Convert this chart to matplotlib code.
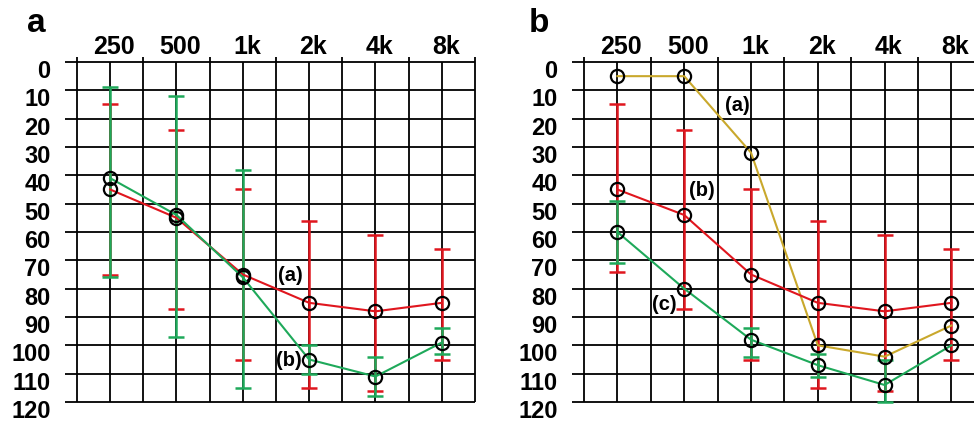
import numpy as np
import matplotlib.pyplot as plt
from matplotlib.transforms import ScaledTranslation

plt.rcParams['font.family'] = ['Liberation Sans', 'DejaVu Sans']
plt.rcParams['font.weight'] = 'bold'

# audiogram frequencies and dB levels
freq_labels = ['250', '500', '1k', '2k', '4k', '8k']
db_ticks = list(range(0, 121, 10))
nan = np.nan

# panel a: thresholds (circles) and bar ranges (top, bottom)
a_red = [45, 55, 75, 85, 88, 85]
a_green = [41, 54, 76, 105, 111, 99]
a_red_top = [15, 24, 45, 56, 61, 66]
a_red_bot = [75, 87, 105, 115, 116, 105]
a_green_top = [9, 12, 38, 100, 104, 94]
a_green_bot = [76, 97, 115, 110, 118, 103]

# panel b
b_yellow = [5, 5, 32, 100, 104, 93]
b_red = [45, 54, 75, 85, 88, 85]
b_green = [60, 80, 98, 107, 114, 100]
b_red_top = [15, 24, 45, 56, 61, 66]
b_red_bot = [74, 87, 105, 115, 116, 105]
b_green_top = [49, nan, 94, 103, 105, nan]
b_green_bot = [71, nan, 104, 111, 120, nan]

RED = '#e0161e'
GREEN = '#1ea95a'
YELLOW = '#c9a82c'

W, H = 974, 423
fig = plt.figure(figsize=(W / 100, H / 100), dpi=100)


def shift(label, dx_px, dy_px):
    label.set_transform(label.get_transform() +
                        ScaledTranslation(dx_px / 100, dy_px / 100, fig.dpi_scale_trans))


def make_axes(left_px, unit_px):
    ax = fig.add_axes([left_px / W, (H - 402) / H, 6 * unit_px / W, 340 / H])
    ax.set_xlim(-0.5, 5.5)
    ax.set_ylim(120, 0)
    for s in ax.spines.values():
        s.set_visible(False)
    xs = np.arange(-0.5, 5.51, 0.5)
    ax.vlines(xs, 0, 120, color='black', lw=1.3, zorder=1, clip_on=False)
    # little stubs above the top line at the half-octave boundaries
    ax.vlines(np.arange(-0.5, 5.51, 1.0), -1.9, 0, color='black', lw=1.3, clip_on=False)
    ax.hlines(db_ticks, -0.5 - 12 / unit_px, 5.5, color='black', lw=1.3, zorder=1, clip_on=False)
    ax.xaxis.tick_top()
    ax.set_xticks(range(6), freq_labels, fontsize=18)
    ax.set_yticks(db_ticks, [str(v) for v in db_ticks], fontsize=17)
    ax.tick_params(axis='x', length=0, pad=2)
    ax.tick_params(axis='y', length=0, pad=19)
    for lab in ax.get_xticklabels():
        shift(lab, 4, 0)
    for lab in ax.get_yticklabels():
        lab.set_verticalalignment('top')
        shift(lab, 0, 2)
    return ax


def bars(ax, top, bot, color, z):
    top = np.array(top, float)
    bot = np.array(bot, float)
    ax.errorbar(range(6), (top + bot) / 2, yerr=(bot - top) / 2, fmt='none',
                ecolor=color, elinewidth=1.8, capsize=6, capthick=1.8, zorder=z, clip_on=False)


def curve(ax, vals, color):
    ax.plot(range(6), vals, color=color, lw=1.5, zorder=3, marker='o', ms=9.5,
            mfc='none', mec='black', mew=1.6, clip_on=False)


axa = make_axes(77, 66.33)
bars(axa, a_red_top, a_red_bot, RED, 2)
bars(axa, a_green_top, a_green_bot, GREEN, 2.5)
curve(axa, a_red, RED)
curve(axa, a_green, GREEN)
axa.text(2.72, 75.5, '(a)', fontsize=14.5, ha='center', va='center', zorder=5)
axa.text(2.70, 105.5, '(b)', fontsize=14.5, ha='center', va='center', zorder=5)

axb = make_axes(584, 66.8)
bars(axb, b_red_top, b_red_bot, RED, 2)
bars(axb, b_green_top, b_green_bot, GREEN, 2.5)
curve(axb, b_yellow, YELLOW)
curve(axb, b_red, RED)
curve(axb, b_green, GREEN)
axb.text(1.80, 15.5, '(a)', fontsize=14.5, ha='center', va='center', zorder=5)
axb.text(1.27, 45.5, '(b)', fontsize=14.5, ha='center', va='center', zorder=5)
axb.text(0.70, 85.5, '(c)', fontsize=14.5, ha='center', va='center', zorder=5)

fig.text(27 / W, 1 - 32 / H, 'a', fontsize=24, va='baseline')
fig.text(529 / W, 1 - 32 / H, 'b', fontsize=24, va='baseline')

fig.savefig('out.png', dpi=100)
